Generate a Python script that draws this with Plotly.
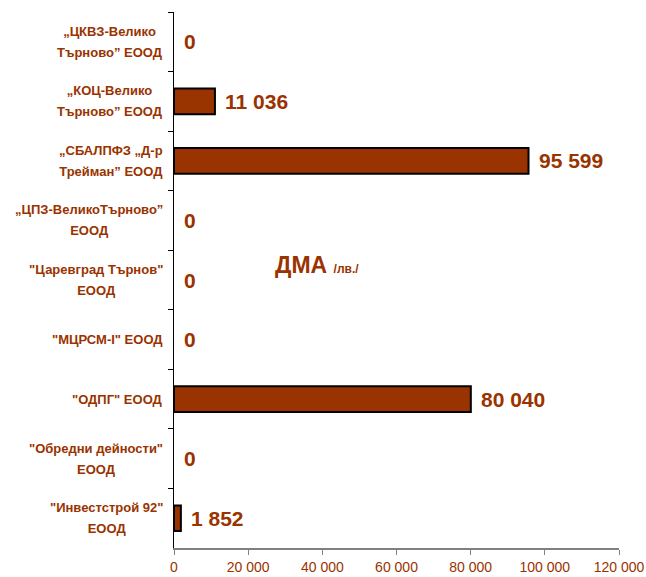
import plotly.graph_objects as go

categories = [
    "„ЦКВЗ-Велико<br>Търново” ЕООД",
    "„КОЦ-Велико<br>Търново” ЕООД",
    "„СБАЛПФЗ „Д-р<br>Трейман” ЕООД",
    "„ЦПЗ-ВеликоТърново”<br>ЕООД",
    "\"Царевград Търнов\"<br>ЕООД",
    "\"МЦРСМ-I\" ЕООД",
    "\"ОДПГ\" ЕООД",
    "\"Обредни дейности\"<br>ЕООД",
    "\"Инвестстрой 92\"<br>ЕООД",
]
values = [0, 11036, 95599, 0, 0, 0, 80040, 0, 1852]
value_labels = ["0", "11 036", "95 599", "0", "0", "0", "80 040", "0", "1 852"]
x_ticks = [0, 20000, 40000, 60000, 80000, 100000, 120000]
x_tick_labels = ["0", "20 000", "40 000", "60 000", "80 000", "100 000", "120 000"]
title_main = "ДМА"
title_unit = "/лв./"

BROWN = "#993300"
FONT = "Liberation Sans, Arial, sans-serif"

fig = go.Figure()
fig.add_trace(go.Bar(
    x=values, y=categories, orientation="h",
    marker=dict(color=BROWN,
                line=dict(color="black", width=[2 if v > 0 else 0 for v in values])),
    hoverinfo="skip",
))

ann = []
for c, v, t in zip(categories, values, value_labels):
    ann.append(dict(x=v, y=c, xref="x", yref="y", text=t, showarrow=False,
                    xanchor="left", yanchor="middle", xshift=8,
                    font=dict(family=FONT, size=21, color=BROWN, weight="bold")))
    ann.append(dict(x=0, y=c, xref="paper", yref="y",
                    text="<b><span style='font-size:13px'>" +
                         c.replace("<br>", "</span></b><br><b><span style='font-size:13px'>") +
                         "</span></b>",
                    showarrow=False, xanchor="right", yanchor="middle", xshift=-9,
                    align="center",
                    font=dict(family=FONT, size=16, color=BROWN)))

ann.append(dict(x=0.222, y=0.528, xref="paper", yref="paper",
                text="<b>" + title_main + "</b> <b><span style='font-size:12px'>" + title_unit + "</span></b>",
                showarrow=False, xanchor="left", yanchor="middle",
                font=dict(family=FONT, size=23, color=BROWN)))

fig.update_layout(
    width=646, height=577,
    margin=dict(l=174, r=27, t=12, b=29),
    paper_bgcolor="white", plot_bgcolor="white",
    showlegend=False,
    bargap=0.57,
    annotations=ann,
    xaxis=dict(range=[0, 120000], tickvals=x_ticks, ticktext=x_tick_labels,
               automargin=False,
               showgrid=False, zeroline=False, showline=True, linecolor="#808080",
               linewidth=1.5, ticks="outside", ticklen=5, tickcolor="#808080",
               tickfont=dict(family=FONT, size=14, color=BROWN)),
    yaxis=dict(autorange="reversed", showgrid=False, zeroline=False,
               automargin=False,
               showline=True, linecolor="black", linewidth=1,
               ticks="outside", ticklen=5, tickcolor="black",
               tickson="boundaries", showticklabels=False),
)

fig.write_html("out.html", config={"displayModeBar": False},
               post_script="document.body.style.margin='0';")
